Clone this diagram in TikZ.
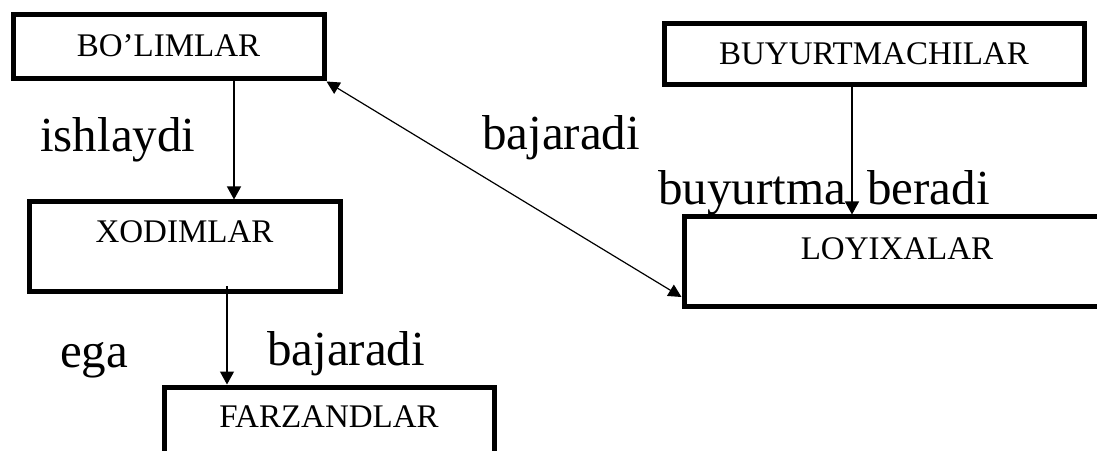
\documentclass[tikz,border=0pt]{standalone}
\usepackage{fontspec}
\setmainfont{Liberation Serif}
\usetikzlibrary{arrows.meta}

\begin{document}
\begin{tikzpicture}[x=1pt,y=1pt,
        box/.style={draw,line width=5pt,inner sep=0pt,anchor=base,font=\fontsize{33}{33}\selectfont},
        lbl/.style={anchor=base west,inner sep=0pt,font=\fontsize{49}{49}\selectfont},
        arr/.style={line width=1.2pt,-{Triangle[length=13pt,width=14pt]}},
        darr/.style={line width=1.2pt,{Triangle[length=13pt,width=13pt]}-{Triangle[length=13pt,width=13pt]}}]
    \useasboundingbox (0,0) rectangle (1097,450);

        \node[box,minimum width=311pt,text height=42pt,text depth=22pt] (bolimlar)  at (168.5,393) {BO’LIMLAR};
        \node[box,minimum width=420pt,text height=41pt,text depth=20pt] (buyurtma)  at (874,385)   {BUYURTMACHILAR};
        \node[box,minimum width=311pt,text height=41pt,text depth=49pt] (xodimlar)  at (184.5,207) {XODIMLAR};
        \node[box,minimum width=426pt,text height=43pt,text depth=47pt] (loyixalar) at (897,190)   {LOYIXALAR};
        \node[box,minimum width=330pt,text height=40pt,text depth=32pt] (farzand)   at (329,23)    {FARZANDLAR};

        \node[lbl] (ishlaydi) at (40,298)  {ishlaydi};
        \node[lbl] (bajar1)   at (482,300) {bajaradi};
        \node[lbl] (buyurt)   at (658,245) {buyurtma};
        \node[lbl] (beradi)   at (867,245) {beradi};
        \node[lbl] (ega)      at (60,83)   {ega};
        \node[lbl] (bajar2)   at (267,85)  {bajaradi};

        \coordinate (b1) at ([xshift=65.5pt]bolimlar.south);
        \coordinate (x1) at ([shift={(42.5pt,8pt)}]xodimlar.south);
        \coordinate (u1) at ([xshift=-22pt]buyurtma.south);
        \coordinate (l1) at ([yshift=-35pt]loyixalar.west);

        \path [arr]  (b1) edge (b1 |- xodimlar.north);
        \path [arr]  (x1) edge (x1 |- farzand.north);
        \path [arr]  (u1) edge (u1 |- loyixalar.north);
        \path [darr] (bolimlar.south east) edge (l1);
    \end{tikzpicture}
\end{document}
